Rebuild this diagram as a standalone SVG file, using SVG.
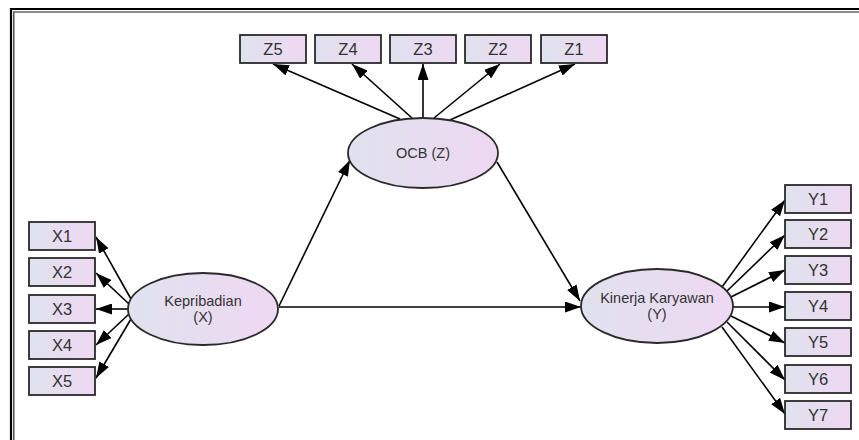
<svg xmlns="http://www.w3.org/2000/svg" width="859" height="440" viewBox="0 0 859 440">
<defs>
<linearGradient id="g" x1="0" y1="0" x2="1" y2="0">
<stop offset="0" stop-color="#e0e2ee"/>
<stop offset="1" stop-color="#eed8f2"/>
</linearGradient>
<marker id="a" markerUnits="userSpaceOnUse" markerWidth="17" markerHeight="11" refX="16" refY="5.5" orient="auto">
<path d="M0,0 L16,5.5 L0,11 Z" fill="#000"/>
</marker>
<style>
.box{fill:url(#g);stroke:#2a2a2a;stroke-width:1.8}
.ell{fill:url(#g);stroke:#2a2a2a;stroke-width:1.8}
.t{font-family:"Liberation Sans",Arial,sans-serif;font-size:16.5px;fill:#333;text-anchor:middle}
.te{font-family:"Liberation Sans",Arial,sans-serif;font-size:14.5px;fill:#333;text-anchor:middle}
.c{stroke:#000;stroke-width:1.6;fill:none;marker-end:url(#a)}
</style>
</defs>
<rect width="859" height="440" fill="#fff"/>
<g id="border">
<line x1="11" y1="8" x2="11" y2="440" stroke="#000" stroke-width="2.2"/>
<line x1="10" y1="9" x2="859" y2="9" stroke="#000" stroke-width="2.2"/>
<line x1="13.8" y1="11.5" x2="13.8" y2="440" stroke="#444" stroke-width="1.4"/>
<line x1="13" y1="12" x2="859" y2="12" stroke="#666" stroke-width="1.4"/>
</g>
<g id="connectors">
<line class="c" x1="400" y1="119" x2="273" y2="64"/>
<line class="c" x1="412" y1="118" x2="352" y2="64"/>
<line class="c" x1="423" y1="118" x2="423" y2="64"/>
<line class="c" x1="434" y1="118" x2="500" y2="64"/>
<line class="c" x1="450" y1="120" x2="575" y2="64"/>
<line class="c" x1="131" y1="299" x2="96" y2="237"/>
<line class="c" x1="129" y1="304" x2="96" y2="273"/>
<line class="c" x1="128" y1="309" x2="96" y2="309"/>
<line class="c" x1="129" y1="314" x2="96" y2="345"/>
<line class="c" x1="131" y1="319" x2="96" y2="378"/>
<line class="c" x1="722" y1="287" x2="785" y2="200"/>
<line class="c" x1="727" y1="291" x2="785" y2="235"/>
<line class="c" x1="731" y1="297" x2="785" y2="270"/>
<line class="c" x1="733" y1="307" x2="785" y2="307"/>
<line class="c" x1="731" y1="316" x2="785" y2="343"/>
<line class="c" x1="727" y1="322" x2="785" y2="380"/>
<line class="c" x1="722" y1="327" x2="785" y2="414"/>
<line class="c" x1="279" y1="306" x2="350" y2="160"/>
<line class="c" x1="497" y1="162" x2="580" y2="301"/>
<line class="c" x1="279" y1="307" x2="581" y2="307"/>
</g>
<g id="Z5"><rect class="box" x="240" y="35" width="66" height="28"/><text class="t" x="273" y="55">Z5</text></g>
<g id="Z4"><rect class="box" x="315" y="35" width="66" height="28"/><text class="t" x="348" y="55">Z4</text></g>
<g id="Z3"><rect class="box" x="390" y="35" width="66" height="28"/><text class="t" x="423" y="55">Z3</text></g>
<g id="Z2"><rect class="box" x="465" y="35" width="66" height="28"/><text class="t" x="498" y="55">Z2</text></g>
<g id="Z1"><rect class="box" x="541" y="35" width="66" height="28"/><text class="t" x="574" y="55">Z1</text></g>
<g id="OCB"><ellipse class="ell" cx="423" cy="153" rx="75" ry="35"/><text class="te" x="423" y="158">OCB (Z)</text></g>
<g id="X1"><rect class="box" x="29" y="222" width="66" height="28"/><text class="t" x="62" y="242">X1</text></g>
<g id="X2"><rect class="box" x="29" y="258" width="66" height="28"/><text class="t" x="62" y="278">X2</text></g>
<g id="X3"><rect class="box" x="29" y="295" width="66" height="28"/><text class="t" x="62" y="315">X3</text></g>
<g id="X4"><rect class="box" x="29" y="331" width="66" height="28"/><text class="t" x="62" y="351">X4</text></g>
<g id="X5"><rect class="box" x="29" y="367" width="66" height="28"/><text class="t" x="62" y="387">X5</text></g>
<g id="Kepribadian"><ellipse class="ell" cx="203" cy="309" rx="75" ry="36"/><text class="te" x="203" y="306">Kepribadian</text><text class="te" x="203" y="322">(X)</text></g>
<g id="Kinerja"><ellipse class="ell" cx="657" cy="306" rx="76" ry="37"/><text class="te" x="657" y="303">Kinerja Karyawan</text><text class="te" x="657" y="319">(Y)</text></g>
<g id="Y1"><rect class="box" x="785" y="185" width="66" height="28"/><text class="t" x="818" y="205">Y1</text></g>
<g id="Y2"><rect class="box" x="785" y="220" width="66" height="28"/><text class="t" x="818" y="240">Y2</text></g>
<g id="Y3"><rect class="box" x="785" y="256" width="66" height="28"/><text class="t" x="818" y="276">Y3</text></g>
<g id="Y4"><rect class="box" x="785" y="292" width="66" height="28"/><text class="t" x="818" y="312">Y4</text></g>
<g id="Y5"><rect class="box" x="785" y="328" width="66" height="28"/><text class="t" x="818" y="348">Y5</text></g>
<g id="Y6"><rect class="box" x="785" y="365" width="66" height="28"/><text class="t" x="818" y="385">Y6</text></g>
<g id="Y7"><rect class="box" x="785" y="401" width="66" height="28"/><text class="t" x="818" y="421">Y7</text></g>
</svg>
